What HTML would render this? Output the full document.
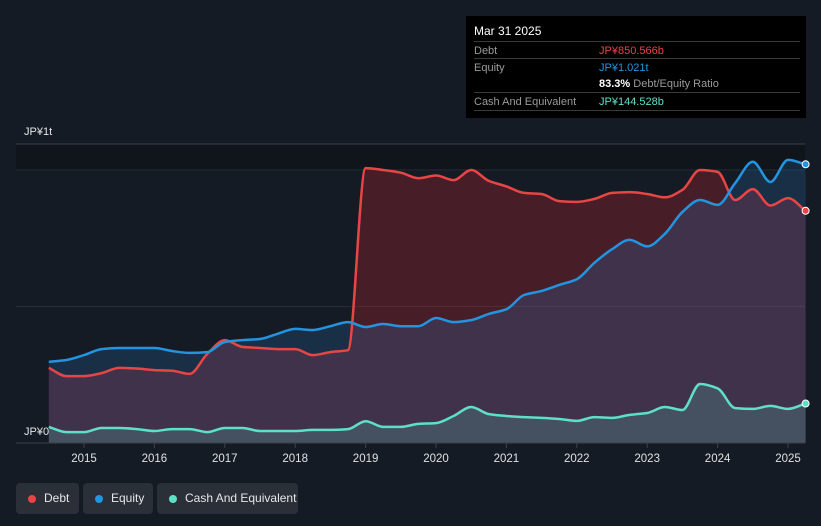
<!DOCTYPE html>
<html><head><meta charset="utf-8">
<style>
body{margin:0;width:821px;height:526px;background:#151b24;overflow:hidden;font-family:"Liberation Sans",sans-serif;position:relative}
#tip{position:absolute;left:466px;top:16px;width:340px;height:102px;background:#000;color:#fff;font-size:11px}
#tip .r{position:absolute;left:8px;right:6px;border-top:1px solid #3a3a3a;height:17px}
#tip .l{position:absolute;left:0;top:3px;color:#9a9a9a}
#tip .v{position:absolute;left:125px;top:3px}
.leg{position:absolute;top:483px;height:31px;background:#2a2f38;border-radius:4px;color:#e6e6e6;font-size:12px}
.leg span.d{position:absolute;top:12px;width:8px;height:8px;border-radius:50%}
.leg span.t{position:absolute;top:8px}
</style></head><body>
<svg id="chart" width="821" height="526" style="position:absolute;left:0;top:0"></svg>
<div id="tip">
<div style="position:absolute;left:8px;top:8px;font-size:12px">Mar 31 2025</div>
<div class="r" style="top:25px"><span class="l">Debt</span><span class="v" style="color:#e84545">JP¥850.566b</span></div>
<div class="r" style="top:42px"><span class="l">Equity</span><span class="v" style="color:#2394e0">JP¥1.021t</span></div>
<div style="position:absolute;left:133px;top:62px"><b>83.3%</b> <span style="color:#9a9a9a">Debt/Equity Ratio</span></div>
<div class="r" style="top:76px;border-bottom:1px solid #3a3a3a"><span class="l">Cash And Equivalent</span><span class="v" style="color:#5ee0c8">JP¥144.528b</span></div>
</div>
<div class="leg" style="left:16px;width:63px"><span class="d" style="left:12px;background:#e84545"></span><span class="t" style="left:28px">Debt</span></div>
<div class="leg" style="left:83px;width:70px"><span class="d" style="left:12px;background:#2394e0"></span><span class="t" style="left:28px">Equity</span></div>
<div class="leg" style="left:157px;width:141px"><span class="d" style="left:12px;background:#5ee0c8"></span><span class="t" style="left:28px">Cash And Equivalent</span></div>
<script>
const years=[2015,2016,2017,2018,2019,2020,2021,2022,2023,2024,2025];
const debt=[.275,.245,.245,.256,.275,.273,.267,.265,.253,.326,.377,.352,.348,.344,.344,.322,.333,.34,1.007,1.0,.99,.97,.98,.963,1.0,.96,.94,.916,.912,.886,.883,.894,.916,.919,.912,.90,.927,1.0,.993,.89,.93,.87,.897,.8506];
const equity=[.297,.304,.322,.344,.348,.348,.348,.337,.33,.333,.37,.377,.381,.40,.418,.414,.428,.443,.425,.436,.428,.428,.458,.443,.45,.473,.49,.542,.557,.579,.60,.66,.71,.744,.72,.766,.846,.89,.872,.952,1.03,.956,1.037,1.021];
const cash=[.059,.04,.04,.055,.055,.051,.044,.051,.051,.04,.055,.055,.044,.044,.044,.048,.048,.051,.08,.059,.059,.07,.073,.099,.132,.106,.099,.095,.092,.088,.081,.095,.092,.103,.11,.132,.121,.216,.2,.128,.125,.136,.125,.1445];
const t0=2014.5,dt=0.25;
const X=t=>84+(t-2015)*70.4, Y=v=>443-273*v;
const svg=document.getElementById('chart');const NS='http://www.w3.org/2000/svg';
function mk(tag,at,parent){const e=document.createElementNS(NS,tag);for(const k in at)e.setAttribute(k,at[k]);(parent||svg).appendChild(e);return e;}
mk('rect',{x:16,y:144,width:789,height:27,fill:'#10141b'});
let e;
e=mk('line',{x1:16,x2:805,y1:144,y2:144,stroke:'#3c4048'});
e=mk('line',{x1:16,x2:805,y1:Y(1),y2:Y(1),stroke:'#272c35'});
e=mk('line',{x1:16,x2:805,y1:Y(.5),y2:Y(.5),stroke:'#272c35'});
const pts=a=>a.map((v,i)=>[X(t0+i*dt),Y(v)]);
function line(p){
  const n=p.length,d=[],m=[];
  for(let i=0;i<n-1;i++)d.push((p[i+1][1]-p[i][1])/(p[i+1][0]-p[i][0]));
  m[0]=d[0];m[n-1]=d[n-2];
  for(let i=1;i<n-1;i++)m[i]=(d[i-1]*d[i]<=0)?0:(2*d[i-1]*d[i])/(d[i-1]+d[i]);
  let s='M'+p[0][0].toFixed(1)+','+p[0][1].toFixed(1);
  for(let i=0;i<n-1;i++){const h=(p[i+1][0]-p[i][0])/3;
    s+=`C${(p[i][0]+h).toFixed(1)},${(p[i][1]+m[i]*h).toFixed(1)} ${(p[i+1][0]-h).toFixed(1)},${(p[i+1][1]-m[i+1]*h).toFixed(1)} ${p[i+1][0].toFixed(1)},${p[i+1][1].toFixed(1)}`;}
  return s;}
const area=p=>line(p)+`L${p[p.length-1][0]},443L${p[0][0]},443Z`;
const pd=pts(debt),pe=pts(equity),pc=pts(cash);
e=mk('path',{d:area(pd),fill:'rgba(190,40,50,0.3)'});
e=mk('path',{d:area(pe),fill:'rgba(40,130,210,0.2)'});
e=mk('path',{d:area(pc),fill:'rgba(94,224,200,0.18)'});
e=mk('path',{d:line(pd),fill:'none',stroke:'#e84545','stroke-width':2.5});
e=mk('path',{d:line(pe),fill:'none',stroke:'#2394e0','stroke-width':2.5});
e=mk('path',{d:line(pc),fill:'none',stroke:'#5ee0c8','stroke-width':2.5});
[[pd,'#e84545','debt-end-point'],[pe,'#2394e0','equity-end-point'],[pc,'#5ee0c8','cash-end-point']].forEach(([p,c,n])=>{const q=p[p.length-1];
e=mk('circle',{cx:q[0],cy:q[1],r:3.5,fill:c,stroke:'#fff','stroke-width':1});});
e=mk('line',{x1:16,x2:805,y1:443,y2:443,stroke:'#3c4048'});
years.forEach(yr=>{
e=mk('line',{x1:X(yr),x2:X(yr),y1:443,y2:448,stroke:'#3c4048'});
e=mk('text',{x:X(yr),y:462,fill:'#e0e0e0','font-size':11.5,'text-anchor':'middle'});e.textContent=yr;});
e=mk('text',{x:24,y:135,fill:'#e6e6e6','font-size':11});e.textContent='JP¥1t';
e=mk('text',{x:24,y:435,fill:'#e6e6e6','font-size':11});e.textContent='JP¥0';
</script>
</body></html>
